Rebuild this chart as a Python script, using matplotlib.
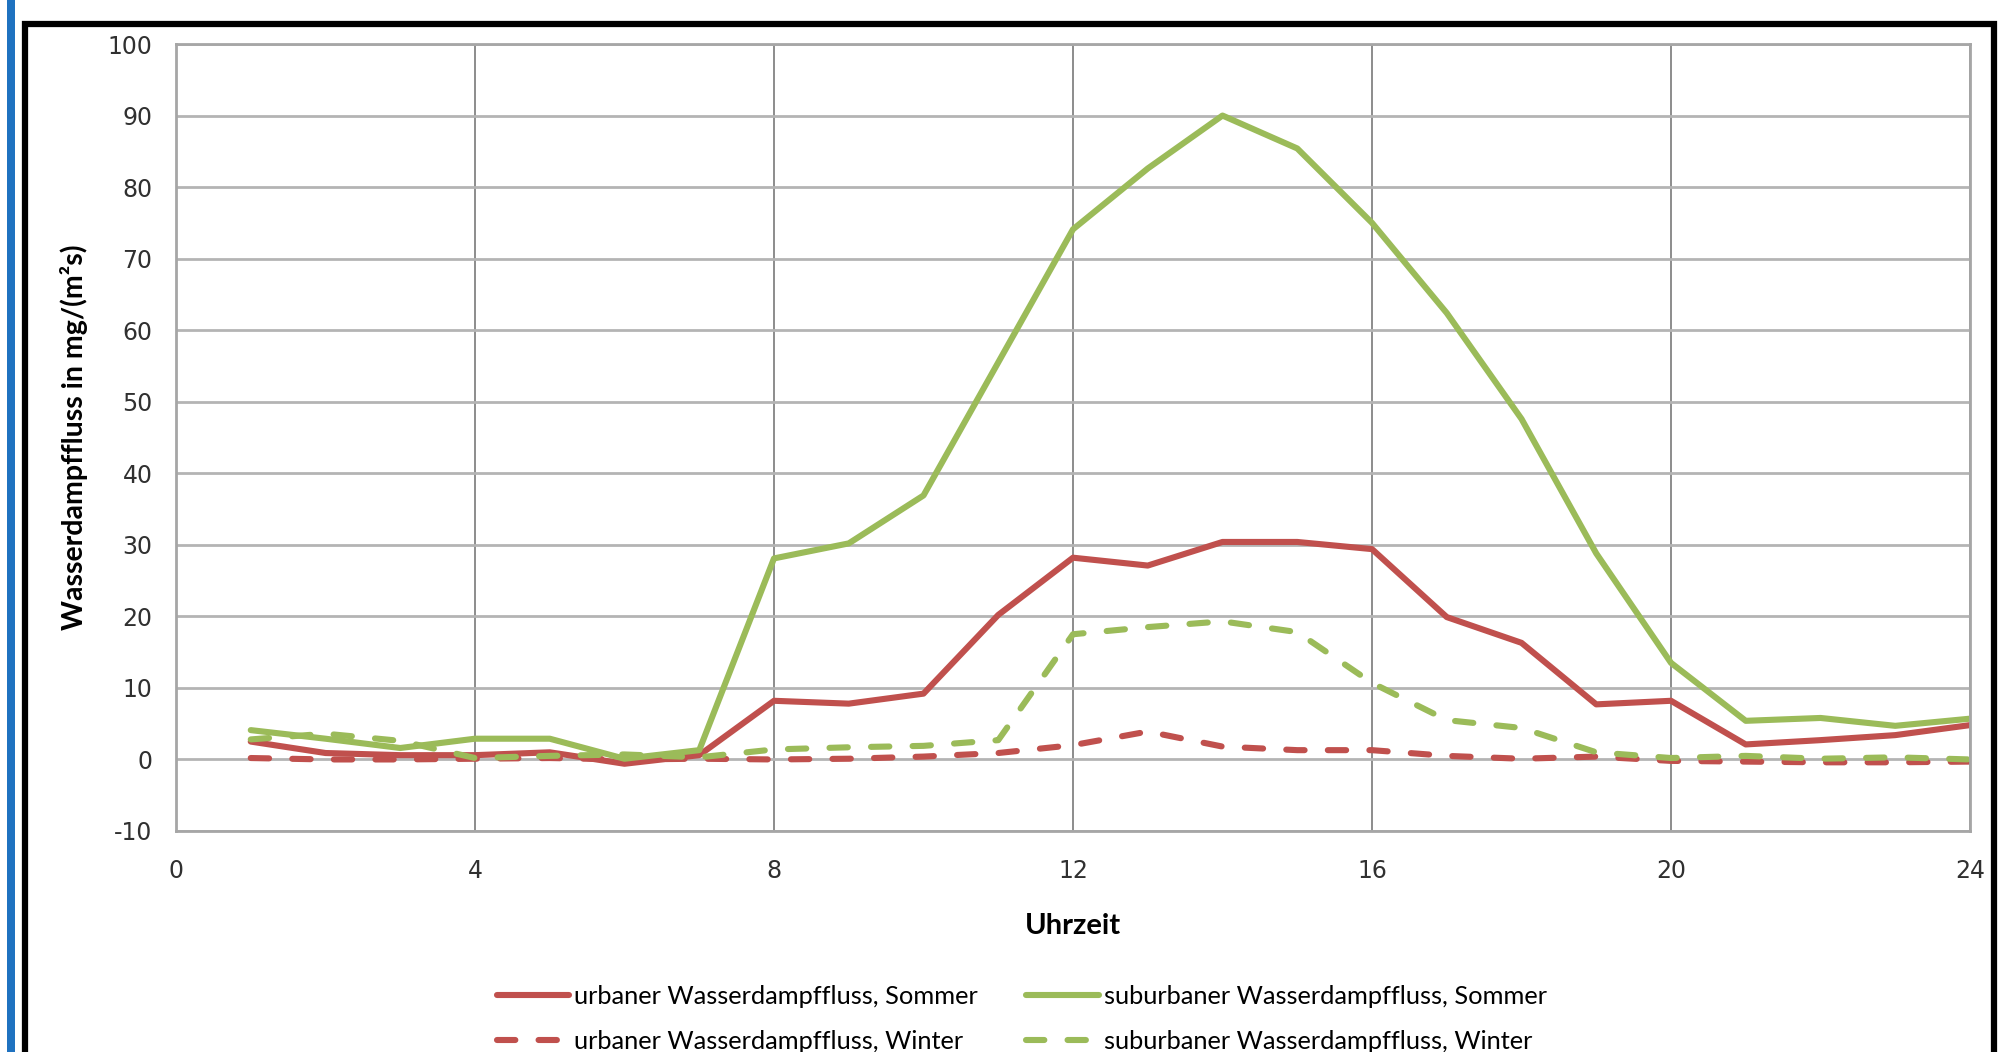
import numpy as np
import matplotlib.pyplot as plt
from matplotlib.patches import Rectangle

plt.rcParams['axes.unicode_minus'] = False

# Uhrzeit (Stunde)
hours = list(range(1, 25))

# Wasserdampffluss in mg/(m2 s)
urb_sommer = [2.5, 0.9, 0.6, 0.6, 1.0, -0.6, 0.6, 8.2, 7.8, 9.2, 20.2, 28.2,
              27.1, 30.4, 30.4, 29.4, 19.9, 16.3, 7.7, 8.2, 2.1, 2.7, 3.4, 4.8]
sub_sommer = [4.1, 2.9, 1.6, 2.9, 2.9, 0.1, 1.3, 28.1, 30.2, 36.9, 55.5, 74.1,
              82.6, 90.0, 85.4, 75.0, 62.4, 47.6, 28.8, 13.5, 5.4, 5.8, 4.7, 5.7]
urb_winter = [0.2, 0.0, 0.0, 0.1, 0.2, 0.0, 0.1, 0.0, 0.1, 0.4, 0.9, 2.0,
              3.9, 1.8, 1.3, 1.3, 0.5, 0.1, 0.4, -0.2, -0.3, -0.4, -0.4, -0.3]
sub_winter = [2.8, 3.6, 2.6, 0.2, 0.5, 0.7, 0.3, 1.4, 1.7, 1.9, 2.7, 17.5,
              18.5, 19.3, 17.8, 10.7, 5.5, 4.4, 1.0, 0.2, 0.5, 0.1, 0.3, 0.0]

labels = ['urbaner Wasserdampffluss, Sommer',
          'urbaner Wasserdampffluss, Winter',
          'suburbaner Wasserdampffluss, Sommer',
          'suburbaner Wasserdampffluss, Winter']

xticks = [0, 4, 8, 12, 16, 20, 24]
yticks = list(range(-10, 101, 10))

RED = '#C0504D'
GREEN = '#9BBB59'

W, H = 2002, 1052
fig = plt.figure(figsize=(W / 100, H / 100), dpi=100)
fig.patch.set_facecolor('white')

# blue bar left and black frame
fig.patches.append(Rectangle((7 / W, 0), 8 / W, 1, transform=fig.transFigure,
                             facecolor='#1F72C0', edgecolor='none', zorder=-1))
fig.patches.append(Rectangle((25 / W, -0.05), 1969 / W, 1.05 - 24 / H,
                             transform=fig.transFigure, facecolor='none',
                             edgecolor='black', linewidth=4.5, zorder=-1))

ax = fig.add_axes([176 / W, 1 - 831 / H, (1970 - 176) / W, (831 - 44) / H])
ax.set_zorder(2)

lw = 4.4
dash = (3.0, 3.8)
l1, = ax.plot(hours, urb_sommer, color=RED, lw=lw, solid_capstyle='round')
l2, = ax.plot(hours, urb_winter, color=RED, lw=lw, dashes=dash,
              dash_capstyle='round')
l3, = ax.plot(hours, sub_sommer, color=GREEN, lw=lw, solid_capstyle='round')
l4, = ax.plot(hours, sub_winter, color=GREEN, lw=lw, dashes=dash,
              dash_capstyle='round')

ax.set_xlim(0, 24)
ax.set_ylim(-10, 100)
ax.set_xticks(xticks)
ax.set_yticks(yticks)
ax.grid(axis='y', color='#B4B4B4', lw=2.0)
ax.grid(axis='x', color='#8C8C8C', lw=1.4)
ax.set_axisbelow(True)
for s in ax.spines.values():
    s.set_color('#A6A6A6')
    s.set_linewidth(2)

ax.tick_params(length=0, labelsize=17, labelcolor='#303030')
ax.tick_params(axis='x', pad=20)
ax.tick_params(axis='y', pad=17)
for t in ax.get_xticklabels() + ax.get_yticklabels():
    t.set_family('DejaVu Sans')

ax.set_xlabel('Uhrzeit', family='Lato', fontweight='bold', fontsize=21,
              labelpad=22)
ax.set_ylabel('Wasserdampffluss in mg/(m²s)', family='Lato',
              fontweight='bold', fontsize=20.5, labelpad=14)

fig.legend([l1, l2, l3, l4], labels, loc='upper left', ncol=2,
           bbox_to_anchor=(474 / W, 1 - 962 / H), frameon=False,
           prop={'family': 'Lato', 'size': 18.3}, handlelength=2.85,
           handletextpad=0.2, columnspacing=1.9, labelspacing=0.88)

fig.savefig('out.png', dpi=100)
